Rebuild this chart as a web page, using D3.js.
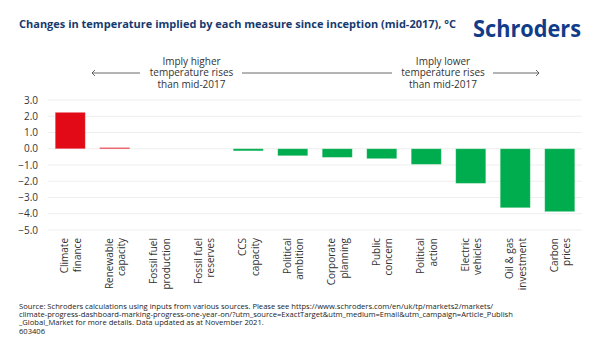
<!DOCTYPE html>
<html>
<head>
<meta charset="utf-8">
<script src="https://cdn.jsdelivr.net/npm/d3@7"></script>
<style>
  body { margin: 0; background: #fff; }
  svg { display: block; font-family: "Open Sans", sans-serif; }
</style>
</head>
<body>
<script>
// data
const categories = ["Climate\nfinance", "Renewable\ncapacity", "Fossil fuel\nproduction", "Fossil fuel\nreserves",
    "CCS\ncapacity", "Political\nambition", "Corporate\nplanning", "Public\nconcern", "Political\naction",
    "Electric\nvehicles", "Oil & gas\ninvestment", "Carbon\nprices"];
const values = [2.24, 0.07, 0, 0, -0.13, -0.43, -0.53, -0.61, -0.96, -2.13, -3.63, -3.87];
const yTicks = [3, 2, 1, 0, -1, -2, -3, -4, -5];
const leftNote = ["Imply higher", "temperature rises", "than mid-2017"];
const rightNote = ["Imply lower", "temperature rises", "than mid-2017"];
const footer = [
    "Source: Schroders calculations using inputs from various sources. Please see https://www.schroders.com/en/uk/tp/markets2/markets/",
    "climate-progress-dashboard-marking-progress-one-year-on/?utm_source=ExactTarget&utm_medium=Email&utm_campaign=Article_Publish",
    "_Global_Market for more details. Data updated as at November 2021.",
    "603406"
];

function main(){
    const canvasWidth = 600;
    const canvasHeight = 354;

    const svg = d3.select("body").append("svg")
        .attr("width", canvasWidth)
        .attr("height", canvasHeight)

    // title + logo
    svg.append("text")
        .attr("x", 19)
        .attr("y", 28)
        .attr("font-size", "11px")
        .attr("font-weight", "bold")
        .attr("fill", "#173a6e")
        .text("Changes in temperature implied by each measure since inception (mid-2017), °C")

    svg.append("text")
        .attr("x", 473)
        .attr("y", 37)
        .attr("font-size", "23px")
        .attr("font-weight", "bold")
        .attr("fill", "#113c8a")
        .attr("textLength", 108)
        .attr("lengthAdjust", "spacingAndGlyphs")
        .text("Schroders")

    const x = d3.scaleBand()
        .domain(categories)
        .range([48, 582])
        .paddingInner(0.325)
        .paddingOuter(0.1625)

    const y = d3.scaleLinear()
        .domain([-5, 3])
        .range([230, 100])

    // gridlines
    svg.append("g")
        .selectAll("line")
        .data(yTicks)
        .join("line")
            .attr("x1", 48)
            .attr("x2", 582)
            .attr("y1", d => y(d))
            .attr("y2", d => y(d))
            .attr("stroke", "#eeeeee")
            .attr("stroke-width", 1)

    // y axis labels
    svg.append("g")
        .attr("transform", "translate(38,0)")
        .call(d3.axisLeft(y).tickValues(yTicks).tickFormat(d3.format(".1f")).tickSize(0).tickPadding(0))
        .call(g => g.select(".domain").remove())
        .selectAll("text")
            .attr("font-family", "Open Sans, sans-serif")
            .attr("font-size", "10px")
            .attr("fill", "#333")

    // bars
    svg.append("g")
        .selectAll("rect")
        .data(values)
        .join("rect")
            .attr("x", (d, i) => x(categories[i]))
            .attr("y", d => y(Math.max(0, d)))
            .attr("width", x.bandwidth())
            .attr("height", d => Math.abs(y(d) - y(0)))
            .attr("fill", d => d > 0 ? "#e20a17" : "#00ad4e")
            .attr("stroke", "#fff")
            .attr("stroke-opacity", 0.3)
            .attr("stroke-width", 0.8)

    // x labels, rotated, two lines each
    const xl = svg.append("g")
        .selectAll("text")
        .data(categories)
        .join("text")
            .attr("transform", d => "translate(" + (x(d) + x.bandwidth() / 2) + ",238) rotate(-90)")
            .attr("text-anchor", "end")
            .attr("font-size", "10px")
            .attr("fill", "#333")

    xl.selectAll("tspan")
        .data(d => d.split("\n"))
        .join("tspan")
            .attr("x", 0)
            .attr("y", (d, i) => i === 0 ? -2 : 10.5)
            .text(d => d)

    // annotations
    function note(lines, cx){
        svg.append("text")
            .attr("text-anchor", "middle")
            .attr("font-size", "10px")
            .attr("fill", "#333")
            .selectAll("tspan")
            .data(lines)
            .join("tspan")
                .attr("x", cx)
                .attr("y", (d, i) => 64.5 + i * 11.5)
                .text(d => d)
    }
    note(leftNote, 191.5);
    note(rightNote, 443);

    const arrows = svg.append("g")
        .attr("fill", "none")
        .attr("stroke", "#444")
        .attr("stroke-width", 0.8)
    arrows.append("path").attr("d", "M92,73H140 M95,70L92,73L95,76")
    arrows.append("path").attr("d", "M242,73H392")
    arrows.append("path").attr("d", "M493,73H539 M536,70L539,73L536,76")

    // footer
    svg.append("text")
        .attr("font-size", "7.6px")
        .attr("fill", "#222")
        .selectAll("tspan")
        .data(footer)
        .join("tspan")
            .attr("x", 19)
            .attr("y", (d, i) => 309 + i * 8.2)
            .text(d => d)
}
main();
</script>
</body>
</html>
